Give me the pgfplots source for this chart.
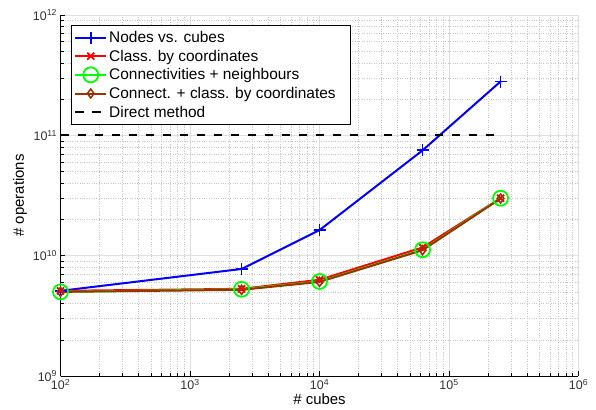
\documentclass[border=0pt]{standalone}
\usepackage{pgfplots}
\pgfplotsset{compat=1.18}
\usepackage{fontspec}
\setmainfont{Liberation Sans}
\definecolor{mbrown}{rgb}{0.6,0.2,0}
\begin{document}
\begin{tikzpicture}
\useasboundingbox (-60.5bp,-34bp) rectangle (535.5bp,376bp);
\begin{axis}[
  scale only axis, width=518bp, height=361bp,
  xmode=log, ymode=log,
  xmin=1e2, xmax=1e6, ymin=1e9, ymax=1e12,
  axis x line*=bottom, axis y line*=left,
  axis line style={-, black, line width=0.6bp},
  tick align=inside,
  xtick={1e2,1e3,1e4,1e5,1e6},
  xticklabels={10\textsuperscript{2},10\textsuperscript{3},10\textsuperscript{4},10\textsuperscript{5},10\textsuperscript{6}},
  ytick={1e9,1e10,1e11,1e12},
  yticklabels={10\textsuperscript{9},10\textsuperscript{10},10\textsuperscript{11},10\textsuperscript{12}},
  grid=both,
  major grid style={gray!25, line width=0.6bp},
  minor grid style={gray!45, dotted, line width=0.5bp},
  major tick length=5bp, minor tick length=3bp,
  tick style={black, line width=0.5bp},
  tick label style={font=\fontsize{12.5}{14}\selectfont, text=black!80},
  label style={font=\fontsize{15}{17}\selectfont},
  xlabel={\# cubes}, ylabel={\# operations},
  xlabel style={yshift=3bp},
  ylabel style={yshift=-1bp},
  legend cell align=left,
  legend style={at={(rel axis cs:0,1)}, anchor=north west, xshift=10.5bp, yshift=-10bp,
    font=\fontsize{15.5}{17}\selectfont, draw=black, row sep=2bp,
    inner xsep=3bp, inner ysep=4bp},
  legend image post style={line width=2bp},
  legend image code/.code={\draw[mark repeat=2,mark phase=2,#1] plot coordinates {(0bp,0bp)(15.5bp,0bp)(31bp,0bp)};},
]
\addplot[blue, line width=2bp, mark=+, mark size=6bp, mark options={line width=1.8bp}]
  coordinates {(100,5.1e9) (2500,7.75e9) (10000,1.63e10) (62500,7.5e10) (250000,2.8e11)};
\addlegendentry{Nodes vs. cubes}
\addplot[red, line width=2bp, mark=x, mark size=5bp, mark options={line width=1.8bp}]
  coordinates {(100,5.1e9) (2500,5.3e9) (10000,6.3e9) (62500,1.17e10) (250000,3.0e10)};
\addlegendentry{Class. by coordinates}
\addplot[green, line width=2bp, mark=o, mark size=7.5bp, mark options={line width=1.8bp}]
  coordinates {(100,5.0e9) (2500,5.25e9) (10000,6.1e9) (62500,1.12e10) (250000,3.0e10)};
\addlegendentry{Connectivities + neighbours}
\addplot[mbrown, line width=2bp, mark=diamond, mark size=4.5bp, mark options={line width=1.5bp}]
  coordinates {(100,5.0e9) (2500,5.2e9) (10000,6.05e9) (62500,1.11e10) (250000,2.98e10)};
\addlegendentry{Connect. + class. by coordinates\hspace*{10bp}\mbox{}}
\addplot[black, line width=2bp, dash pattern=on 8.5bp off 8.5bp]
  coordinates {(100,1e11) (250000,1e11)};
\addlegendentry{Direct method}
\end{axis}
\end{tikzpicture}
\end{document}
